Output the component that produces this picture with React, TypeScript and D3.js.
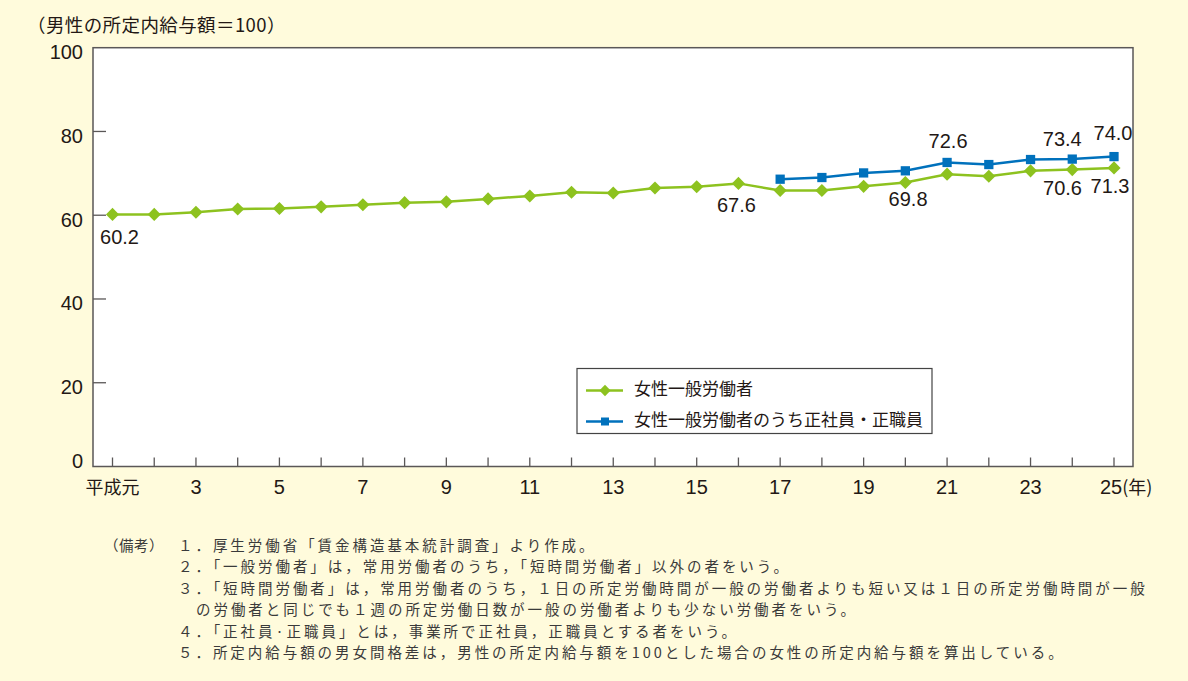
import { useEffect, useRef } from "react";
import * as d3 from "d3";

const years = d3.range(1, 26);
const generalWorkers = [
  60.2, 60.2, 60.7, 61.5, 61.6, 62.0, 62.5, 63.0, 63.2, 63.9, 64.6, 65.5, 65.3,
  66.5, 66.8, 67.6, 65.9, 65.9, 66.9, 67.8, 69.8, 69.3, 70.6, 70.9, 71.3,
];
const regularYears = d3.range(17, 26);
const regularWorkers = [68.6, 69.0, 70.1, 70.6, 72.6, 72.1, 73.3, 73.4, 74.0];

const yTicks = [0, 20, 40, 60, 80, 100];
const xLabelYears = [1, 3, 5, 7, 9, 11, 13, 15, 17, 19, 21, 23, 25];

const seriesNames = ["女性一般労働者", "女性一般労働者のうち正社員・正職員"];

// value labels: which series/year, and nudge from the point
const valueLabels = [
  { s: 0, year: 1, dx: 7, dy: 24 },
  { s: 0, year: 16, dx: -2, dy: 23 },
  { s: 0, year: 21, dx: -39, dy: 27 },
  { s: 0, year: 23, dx: 32, dy: 19 },
  { s: 0, year: 25, dx: -4, dy: 20 },
  { s: 1, year: 21, dx: 1, dy: -20 },
  { s: 1, year: 24, dx: -10, dy: -18 },
  { s: 1, year: 25, dx: -1, dy: -22 },
];

const notesHead = "（備考）";
const notes = [
  "１．厚生労働省「賃金構造基本統計調査」より作成。",
  "２．「一般労働者」は，常用労働者のうち，「短時間労働者」以外の者をいう。",
  "３．「短時間労働者」は，常用労働者のうち，１日の所定労働時間が一般の労働者よりも短い又は１日の所定労働時間が一般",
  "の労働者と同じでも１週の所定労働日数が一般の労働者よりも少ない労働者をいう。",
  "４．「正社員·正職員」とは，事業所で正社員，正職員とする者をいう。",
  "５．所定内給与額の男女間格差は，男性の所定内給与額を100とした場合の女性の所定内給与額を算出している。",
];

const W = 1188;
const H = 681;
const GREEN = "#8dc21f";
const BLUE = "#0071bc";
const TEXT = "#231815";
const CJK = "'Noto Sans CJK JP', sans-serif";
const NUM = "'Liberation Sans', Arial, sans-serif";

export default function App() {
  const ref = useRef<SVGSVGElement>(null);

  useEffect(() => {
    const svg = d3.select(ref.current);
    svg.selectAll("*").remove();

    const left = 93;
    const right = 1133;
    const top = 47.7;
    const bottom = 466.5;

    const x = d3.scaleLinear().domain([1, 25]).range([112.5, 1114]);
    const y = d3.scaleLinear().domain([0, 100]).range([bottom, top]);

    svg.append("rect").attr("width", W).attr("height", H).attr("fill", "#fffbdc");

    // title
    svg
      .append("text")
      .attr("x", 27)
      .attr("y", 27)
      .attr("dominant-baseline", "middle")
      .attr("font-family", CJK)
      .attr("font-size", 18.5)
      .attr("letter-spacing", 0.4)
      .attr("fill", TEXT)
      .text("（男性の所定内給与額＝100）");

    // plot area
    svg
      .append("rect")
      .attr("x", left)
      .attr("y", top)
      .attr("width", right - left)
      .attr("height", bottom - top)
      .attr("fill", "#fff")
      .attr("stroke", "#5a5757")
      .attr("stroke-width", 1.5);

    // y ticks
    svg
      .selectAll("line.ytick")
      .data(yTicks.filter((t) => t > 0 && t < 100))
      .join("line")
      .attr("x1", left)
      .attr("x2", left + 13)
      .attr("y1", (d) => y(d))
      .attr("y2", (d) => y(d))
      .attr("stroke", "#5a5757")
      .attr("stroke-width", 1.3);

    svg
      .selectAll("text.ylab")
      .data(yTicks)
      .join("text")
      .attr("x", 83)
      .attr("y", (d) => y(d) + (d === 0 ? -4 : 6))
      .attr("text-anchor", "end")
      .attr("dominant-baseline", "middle")
      .attr("font-family", NUM)
      .attr("font-size", 20)
      .attr("fill", TEXT)
      .text((d) => d);

    // x ticks
    svg
      .selectAll("line.xtick")
      .data(years)
      .join("line")
      .attr("x1", (d) => x(d))
      .attr("x2", (d) => x(d))
      .attr("y1", bottom)
      .attr("y2", bottom - 9)
      .attr("stroke", "#5a5757")
      .attr("stroke-width", 1.3);

    const xl = svg.append("g");
    xLabelYears.forEach((yr) => {
      const t = xl
        .append("text")
        .attr("y", 489)
        .attr("dominant-baseline", "middle")
        .attr("font-size", yr === 1 ? 18 : 20)
        .attr("font-family", yr === 1 ? CJK : NUM)
        .attr("fill", TEXT);
      if (yr === 25) {
        t.attr("x", x(yr) - 14).attr("text-anchor", "start");
        t.append("tspan").text("25");
        t.append("tspan").attr("font-family", CJK).attr("font-size", 18).text("(年)");
      } else {
        t.attr("x", x(yr))
          .attr("text-anchor", "middle")
          .text(yr === 1 ? "平成元" : String(yr));
      }
    });

    const series = [
      { xs: years, vs: generalWorkers, color: GREEN, diamond: true },
      { xs: regularYears, vs: regularWorkers, color: BLUE, diamond: false },
    ];

    const line = d3
      .line<[number, number]>()
      .x((d) => x(d[0]))
      .y((d) => y(d[1]));

    const sym = d3.symbol(d3.symbolSquare, 86);

    series.forEach((s) => {
      const pts = s.xs.map((yr, i) => [yr, s.vs[i]] as [number, number]);
      svg
        .append("path")
        .datum(pts)
        .attr("fill", "none")
        .attr("stroke", s.color)
        .attr("stroke-width", 2.5)
        .attr("d", line);
      svg
        .append("g")
        .selectAll("path")
        .data(pts)
        .join("path")
        .attr("d", sym)
        .attr(
          "transform",
          (d) => `translate(${x(d[0])},${y(d[1])})${s.diamond ? " rotate(45)" : ""}`
        )
        .attr("fill", s.color);
    });

    // value labels
    svg
      .selectAll("text.val")
      .data(valueLabels)
      .join("text")
      .attr("x", (d) => x(d.year) + d.dx)
      .attr("y", (d) => {
        const s = series[d.s];
        return y(s.vs[s.xs.indexOf(d.year)]) + d.dy;
      })
      .attr("text-anchor", "middle")
      .attr("dominant-baseline", "middle")
      .attr("font-family", NUM)
      .attr("font-size", 20)
      .attr("fill", TEXT)
      .text((d) => {
        const s = series[d.s];
        return s.vs[s.xs.indexOf(d.year)].toFixed(1);
      });

    // legend
    const lg = svg.append("g");
    lg.append("rect")
      .attr("x", 577)
      .attr("y", 368.5)
      .attr("width", 355)
      .attr("height", 65)
      .attr("fill", "#fff")
      .attr("stroke", "#444")
      .attr("stroke-width", 1.2);
    const lsym = d3.symbol(d3.symbolSquare, 64);
    seriesNames.forEach((name, i) => {
      const cy = 390.5 + i * 31;
      const s = series[i];
      lg.append("line")
        .attr("x1", 586)
        .attr("x2", 623)
        .attr("y1", cy)
        .attr("y2", cy)
        .attr("stroke", s.color)
        .attr("stroke-width", 2.5);
      lg.append("path")
        .attr("d", lsym)
        .attr("transform", `translate(605,${cy})${s.diamond ? " rotate(45)" : ""}`)
        .attr("fill", s.color);
      lg.append("text")
        .attr("x", 634)
        .attr("y", cy)
        .attr("dominant-baseline", "middle")
        .attr("font-family", CJK)
        .attr("font-size", 17)
        .attr("fill", TEXT)
        .text(name);
    });

    // notes
    const nf = svg
      .append("g")
      .attr("font-family", CJK)
      .attr("font-size", 14.5)
      .attr("fill", "#3a3a3a");
    nf.append("text")
      .attr("x", 104)
      .attr("y", 547)
      .attr("dominant-baseline", "middle")
      .attr("letter-spacing", 0.5)
      .text(notesHead);
    notes.forEach((n, i) => {
      nf.append("text")
        .attr("x", i === 3 ? 196 : 178)
        .attr("y", 547 + i * 21.4)
        .attr("dominant-baseline", "middle")
        .attr("letter-spacing", 2.95)
        .text(n);
    });
  }, []);

  return (
    <div style={{ position: "absolute", left: 0, top: 0 }}>
      <svg ref={ref} width={W} height={H} style={{ display: "block" }} />
    </div>
  );
}
